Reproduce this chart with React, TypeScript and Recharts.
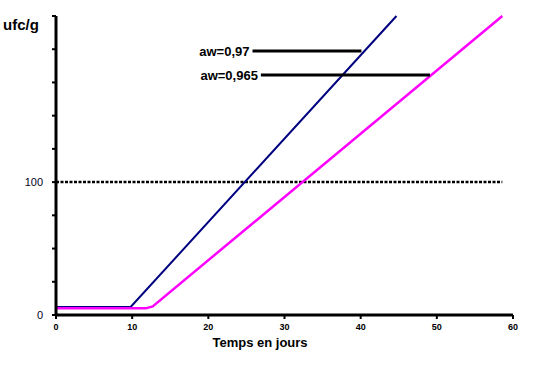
import React from 'react';
import { LineChart, Line, XAxis, YAxis } from 'recharts';

// growth curves (x = days, y = ufc/g on the chart's scale)
const aw097 = [
  { x: 0, y: 6 },
  { x: 9.8, y: 6 },
  { x: 44.7, y: 225 },
];
const aw0965 = [
  { x: 0, y: 5 },
  { x: 11.8, y: 5 },
  { x: 12.7, y: 6.5 },
  { x: 58.6, y: 225 },
];
// threshold line at 100
const threshold = [
  { x: 0, y: 100 },
  { x: 58.6, y: 100 },
];
// label leader lines
const label097 = [
  { x: 25.8, y: 198.6, name: 'aw=0,97' },
  { x: 40.1, y: 198.6 },
];
const label0965 = [
  { x: 26.9, y: 180.6, name: 'aw=0,965' },
  { x: 49.1, y: 180.6 },
];

const xTicks = [0, 10, 20, 30, 40, 50, 60];
const yTicks = [0, 25, 50, 75, 100, 125, 150, 175, 200, 225];
const yShown = [0, 100];

const font = 'Arial, "Liberation Sans", sans-serif';

const leaderLabel = (data: { name?: string }[]) => (props: any) => {
  const name = data[props.index]?.name;
  if (!name) return null;
  return (
    <text
      x={props.x - 3}
      y={props.y}
      textAnchor="end"
      dominantBaseline="central"
      fontFamily={font}
      fontWeight="bold"
      fontSize={13}
      fill="#000"
    >
      {name}
    </text>
  );
};

export default function App() {
  return (
    <div style={{ position: 'relative', width: 556, height: 366, background: '#fff' }}>
      <style>{'body{margin:0}'}</style>
      <LineChart
        width={556}
        height={366}
        margin={{ top: 16, right: 43, left: 0, bottom: 0 }}
      >
        <XAxis
          type="number"
          dataKey="x"
          domain={[0, 60]}
          ticks={xTicks}
          height={51}
          axisLine={{ stroke: '#000', strokeWidth: 3 }}
          tickLine={{ stroke: '#000', strokeWidth: 2 }}
          tickSize={4}
          tickMargin={5}
          tick={{ fontSize: 9, fontWeight: 'bold', fill: '#000', fontFamily: font }}
          label={{
            content: () => (
              <text
                x={260}
                y={342}
                textAnchor="middle"
                dominantBaseline="central"
                fontFamily={font}
                fontWeight="bold"
                fontSize={13}
                fill="#000"
              >
                Temps en jours
              </text>
            ),
          }}
        />
        <YAxis
          type="number"
          domain={[0, 225]}
          ticks={yTicks}
          width={56}
          interval={0}
          axisLine={{ stroke: '#000', strokeWidth: 3 }}
          tickLine={{ stroke: '#000', strokeWidth: 2 }}
          tickSize={4}
          tickMargin={9}
          tick={{ fontSize: 11, fill: '#000022', fontFamily: font }}
          tickFormatter={(v) => (yShown.includes(v) ? String(v) : '')}
          label={{
            content: () => (
              <text
                x={3}
                y={24}
                dominantBaseline="central"
                fontFamily={font}
                fontWeight="bold"
                fontSize={15}
                fill="#000"
              >
                ufc/g
              </text>
            ),
          }}
        />
        <Line
          data={threshold}
          dataKey="y"
          stroke="#000"
          strokeWidth={2.5}
          strokeDasharray="3 1.5"
          dot={false}
          activeDot={false}
          isAnimationActive={false}
        />
        <Line
          data={aw097}
          dataKey="y"
          stroke="#000080"
          strokeWidth={2}
          dot={false}
          activeDot={false}
          isAnimationActive={false}
        />
        <Line
          data={aw0965}
          dataKey="y"
          stroke="#ff00ff"
          strokeWidth={2.5}
          dot={false}
          activeDot={false}
          isAnimationActive={false}
        />
        <Line
          data={label097}
          dataKey="y"
          stroke="#000"
          strokeWidth={3}
          dot={false}
          activeDot={false}
          isAnimationActive={false}
          label={leaderLabel(label097)}
        />
        <Line
          data={label0965}
          dataKey="y"
          stroke="#000"
          strokeWidth={3}
          dot={false}
          activeDot={false}
          isAnimationActive={false}
          label={leaderLabel(label0965)}
        />
      </LineChart>
    </div>
  );
}
